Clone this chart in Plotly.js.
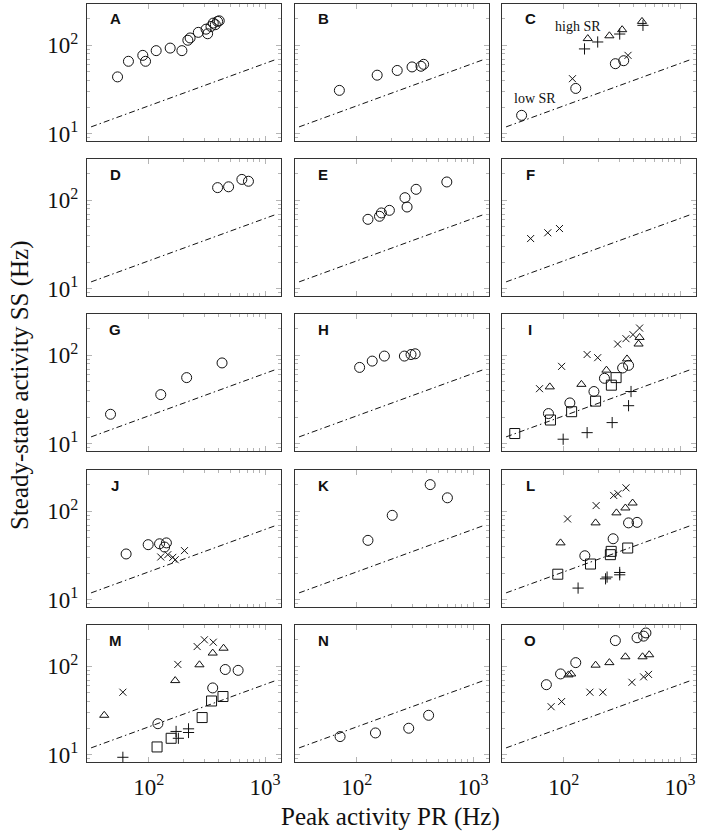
<!DOCTYPE html>
<html>
<head>
<meta charset="utf-8">
<script src="https://cdn.plot.ly/plotly-3.0.1.min.js"></script>
<style>html,body{margin:0;padding:0;background:#fff;}</style>
</head>
<body>
<div id="chart" style="width:702px;height:834px;"></div>
<script>
// ---- data ----
const panelLabels = ['A','B','C','D','E','F','G','H','I','J','K','L','M','N','O'];

const refX = [32, 1270];
const refY = [12, 70];

const aCircX = [54, 67, 89, 94, 116, 153, 193, 217, 227, 267, 311, 321, 343, 359, 374, 391, 404];
const aCircY = [44, 66, 77, 66, 87, 93, 87, 114, 121, 140, 152, 135, 163, 178, 171, 186, 189];

const bCircX = [71, 150, 223, 299, 357, 376];
const bCircY = [31, 46, 52, 57, 58, 61];

const cTriX = [161, 247, 318, 471];
const cTriY = [119, 128, 150, 186];
const cPlusX = [151, 196, 303, 480];
const cPlusY = [91, 109, 134, 168];
const cXX = [119, 357];
const cXY = [42, 77];
const cCircX = [43.5, 127, 278, 328];
const cCircY = [16.2, 32.6, 62, 67];

const dCircX = [391, 486, 632, 720];
const dCircY = [139, 142, 172, 164];

const eCircX = [125, 157, 163, 191, 260, 271, 324, 595];
const eCircY = [61, 66, 72, 77, 107, 84, 133, 161];

const fXX = [52, 73, 92];
const fXY = [37, 43, 48];

const gCircX = [47, 127, 212, 427];
const gCircY = [21.6, 36, 56, 82];

const hCircX = [106, 136, 173, 257, 293, 318];
const hCircY = [73, 86, 98, 98, 102, 104];

const iSqX = [38, 77, 117, 188, 257, 282];
const iSqY = [13.1, 18.6, 23.1, 30.4, 46, 56];
const iCircX = [74, 113, 182, 224, 321, 361];
const iCircY = [22, 29, 39, 55, 72, 77];
const iTriX = [76, 142, 233, 350, 440, 449];
const iTriY = [44, 47, 68, 91, 134, 159];
const iXX = [62, 96, 159, 196, 291, 343, 394, 449];
const iXY = [42, 75, 102, 94, 134, 154, 171, 203];
const iPlusX = [99, 159, 261, 361, 379];
const iPlusY = [11.3, 13.4, 17.4, 27, 39];

const jCircX = [64, 99, 124, 142, 137];
const jCircY = [33, 42, 43, 44, 39.5];
const jXX = [127, 146, 161, 169, 203];
const jXY = [30.5, 32.4, 30.2, 28.4, 36];

const kCircX = [125, 202, 428, 602];
const kCircY = [47, 90, 200, 142];

const lXX = [108, 190, 269, 293, 343];
const lXY = [82, 116, 151, 158, 184];
const lTriX = [94, 188, 284, 339, 391];
const lTriY = [44, 74, 96, 109, 124];
const lCircX = [152, 266, 361, 427];
const lCircY = [31.5, 49, 74, 75];
const lSqX = [89, 170, 252, 256, 355];
const lSqY = [19.5, 25.4, 32.4, 35.3, 38.5];
const lPlusX = [133, 229, 236, 303, 303];
const lPlusY = [13.6, 17.3, 18.1, 19.2, 20.4];

const mXX = [60, 178, 261, 301, 359];
const mXY = [51, 105, 167, 199, 187];
const mTriX = [41.5, 169, 273, 355, 440];
const mTriY = [28, 69, 104, 141, 160];
const mCircX = [120, 355, 455, 587];
const mCircY = [22.5, 57, 92, 90];
const mSqX = [118, 156, 288, 347, 435];
const mSqY = [12.3, 15.4, 26.4, 40.6, 45.6];
const mPlusX = [60, 172, 180, 220, 220];
const mPlusY = [9.4, 18.4, 15.4, 19.7, 17.9];

const nCircX = [72, 145, 280, 415];
const nCircY = [16.1, 17.7, 20, 28];

const oCircX = [71, 94, 127, 278, 427, 486, 509];
const oCircY = [62, 82, 110, 195, 210, 219, 238];
const oTriX = [110, 116, 188, 247, 339, 476, 543];
const oTriY = [80, 82, 103, 110, 128, 128, 135];
const oXX = [78, 96, 168, 217, 386, 486, 536];
const oXY = [35, 40, 51, 51, 66, 76, 81];

const xMajor = [100, 1000];
const xMajorText = ['10<sup>2</sup>', '10<sup>3</sup>'];
const xMinor = [200, 300, 400, 500, 600, 700, 800, 900];
const yMajor = [10, 100];
const yMajorText = ['10<sup>1</sup>', '10<sup>2</sup>'];
const yMinor = [9, 20, 30, 40, 50, 60, 70, 80, 90, 200];

const cAnnot = [['high SR', 134, 163], ['low SR', 56.5, 25.4]];

// ---- series per panel ----
const panelSeries = [
  [['circ', aCircX, aCircY]],
  [['circ', bCircX, bCircY]],
  [['tri', cTriX, cTriY], ['plus', cPlusX, cPlusY], ['x', cXX, cXY], ['circ', cCircX, cCircY]],
  [['circ', dCircX, dCircY]],
  [['circ', eCircX, eCircY]],
  [['x', fXX, fXY]],
  [['circ', gCircX, gCircY]],
  [['circ', hCircX, hCircY]],
  [['sq', iSqX, iSqY], ['circ', iCircX, iCircY], ['tri', iTriX, iTriY], ['x', iXX, iXY], ['plus', iPlusX, iPlusY]],
  [['circ', jCircX, jCircY], ['x', jXX, jXY]],
  [['circ', kCircX, kCircY]],
  [['x', lXX, lXY], ['tri', lTriX, lTriY], ['circ', lCircX, lCircY], ['sq', lSqX, lSqY], ['plus', lPlusX, lPlusY]],
  [['x', mXX, mXY], ['tri', mTriX, mTriY], ['circ', mCircX, mCircY], ['sq', mSqX, mSqY], ['plus', mPlusX, mPlusY]],
  [['circ', nCircX, nCircY]],
  [['circ', oCircX, oCircY], ['tri', oTriX, oTriY], ['x', oXX, oXY]]
];

const markerStyle = {
  circ: {symbol: 'circle-open', size: 10},
  tri:  {symbol: 'triangle-up-open', size: 8},
  x:    {symbol: 'x-thin-open', size: 7},
  plus: {symbol: 'cross-thin-open', size: 8},
  sq:   {symbol: 'square-open', size: 10}
};

// ---- layout geometry (pixels) ----
const W = 702, H = 834;
const colLeft = [87, 295, 502];
const panelW = 194;
const rowTop = [4, 159, 314, 470, 625];
const panelH = 137;

const traces = [];
const layout = {
  width: W, height: H,
  margin: {l: 0, r: 0, t: 0, b: 0},
  paper_bgcolor: '#fff', plot_bgcolor: '#fff',
  showlegend: false,
  annotations: []
};

const serif = 'Liberation Serif, DejaVu Serif, serif';

for (let i = 0; i < 15; i++) {
  const r = Math.floor(i / 3), c = i % 3;
  const n = i === 0 ? '' : String(i + 1);
  const xa = 'x' + n, ya = 'y' + n;
  const tickBase = {
    type: 'log', showgrid: false, zeroline: false,
    showline: true, mirror: 'allticks', linecolor: '#333', linewidth: 1.1,
    ticks: 'inside', ticklen: 5, tickcolor: '#b5b5b5', tickwidth: 1,
    tickfont: {family: serif, size: 23, color: '#111'},
    tickmode: 'array'
  };
  layout['xaxis' + n] = Object.assign({}, tickBase, {
    domain: [colLeft[c] / W, (colLeft[c] + panelW) / W],
    anchor: ya,
    range: [1.47, 3.137],
    tickvals: xMajor, ticktext: xMajorText,
    showticklabels: r === 4,
    ticklabelstandoff: 4,
    minor: {tickmode: 'array', tickvals: xMinor, ticks: 'inside', ticklen: 3, tickcolor: '#b5b5b5', showgrid: false}
  });
  layout['yaxis' + n] = Object.assign({}, tickBase, {
    domain: [1 - (rowTop[r] + panelH) / H, 1 - rowTop[r] / H],
    anchor: xa,
    range: [0.92, 2.466],
    tickvals: yMajor, ticktext: yMajorText,
    showticklabels: c === 0,
    ticklabelstandoff: 3,
    minor: {tickmode: 'array', tickvals: yMinor, ticks: 'inside', ticklen: 3, tickcolor: '#b5b5b5', showgrid: false}
  });

  // reference line
  traces.push({
    x: refX, y: refY, xaxis: xa, yaxis: ya, mode: 'lines',
    line: {color: '#111', width: 1, dash: '6px,3px,1.5px,3px'},
    hoverinfo: 'skip'
  });

  panelSeries[i].forEach(s => {
    const st = markerStyle[s[0]];
    traces.push({
      x: s[1], y: s[2], xaxis: xa, yaxis: ya, mode: 'markers',
      marker: {symbol: st.symbol, size: st.size, color: '#111', line: {color: '#111', width: 1}},
      cliponaxis: false
    });
  });

  layout.annotations.push({
    text: '<b>' + panelLabels[i] + '</b>',
    xref: xa + ' domain', yref: ya + ' domain',
    x: 28 / panelW, y: 1 - 15 / panelH,
    xanchor: 'center', yanchor: 'middle', showarrow: false,
    font: {family: 'Liberation Sans, Arial, sans-serif', size: 15, color: '#111'}
  });
}

cAnnot.forEach(a => {
  layout.annotations.push({
    text: a[0], xref: 'x3', yref: 'y3',
    x: Math.log10(a[1]), y: Math.log10(a[2]),
    xanchor: 'center', yanchor: 'middle', showarrow: false,
    font: {family: serif, size: 14, color: '#111'}
  });
});

layout.annotations.push({
  text: 'Peak activity PR (Hz)', xref: 'paper', yref: 'paper',
  x: 390 / W, y: 1 - 817 / H, xanchor: 'center', yanchor: 'middle', showarrow: false,
  font: {family: serif, size: 25, color: '#111'}
});
layout.annotations.push({
  text: 'Steady-state activity SS (Hz)', xref: 'paper', yref: 'paper',
  x: 20 / W, y: 1 - 385 / H, xanchor: 'center', yanchor: 'middle', showarrow: false,
  textangle: -90,
  font: {family: serif, size: 25, color: '#111'}
});

Plotly.newPlot('chart', traces, layout, {staticPlot: true, displayModeBar: false});
</script>
</body>
</html>
